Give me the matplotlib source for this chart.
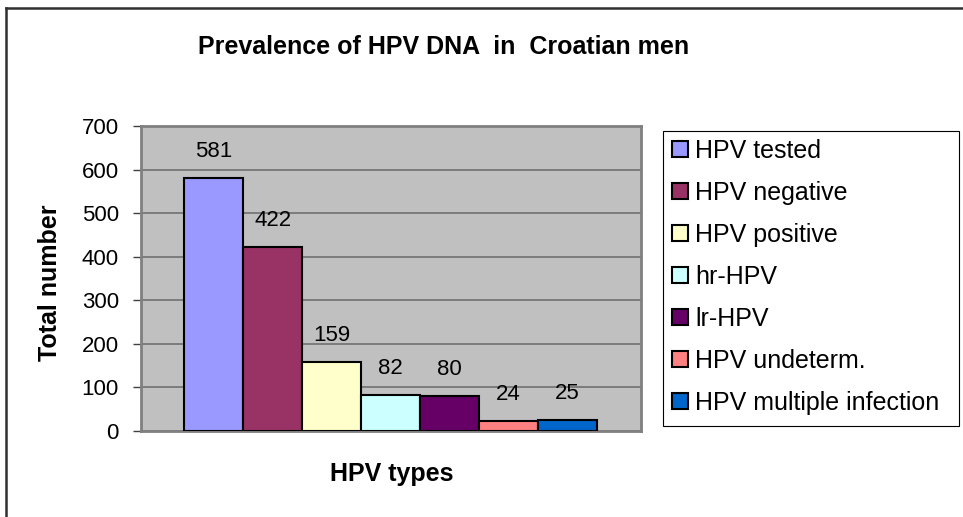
import matplotlib
matplotlib.use("Agg")
import matplotlib.pyplot as plt
from matplotlib.patches import Rectangle, Patch
from matplotlib.lines import Line2D

# -- data --
categories = ["HPV tested", "HPV negative", "HPV positive", "hr-HPV",
              "lr-HPV", "HPV undeterm.", "HPV multiple infection"]
values = [581, 422, 159, 82, 80, 24, 25]
colors = ["#9999FF", "#993366", "#FFFFCC", "#CCFFFF",
          "#660066", "#FF8080", "#0066CC"]
yticks = [0, 100, 200, 300, 400, 500, 600, 700]

plt.rcParams['font.family'] = ['Liberation Sans', 'DejaVu Sans']

W, H = 963, 517
fig = plt.figure(figsize=(W / 100, H / 100), dpi=100)

def fx(px):
    return px / W

def fy(px):
    return 1 - px / H

# -- plot area --------------------------------------------------
ax = fig.add_axes((fx(141), fy(431), 500 / W, 305 / H))
ax.set_facecolor("#C0C0C0")

for i, (v, c, lab) in enumerate(zip(values, colors, categories)):
    ax.bar(i, v, width=1.0, color=c, edgecolor="black", linewidth=1.5,
           label=lab, zorder=3)
    ax.annotate(str(v), (i, v), xytext=(0, 19), textcoords="offset points",
                ha="center", va="center", fontsize=16, zorder=4)

ax.set_xlim(-1.23, 7.245)
ax.set_ylim(0, 700)
ax.set_yticks(yticks)
ax.set_xticks([])
ax.tick_params(axis="y", direction="out", length=6, width=1, color="#404040",
               labelsize=16, pad=10)
ax.yaxis.grid(True, color="#707070", linewidth=1.2, zorder=1)
for s in ax.spines.values():
    s.set_color("#808080")
    s.set_linewidth(2)

# axis titles
fig.text(fx(50), fy(283), "Total number", rotation=90, ha="center", va="center",
         fontsize=18, fontweight="bold")
fig.text(fx(392), fy(474), "HPV types", ha="center", va="center",
         fontsize=18, fontweight="bold")

# -- legend -----------------------------------------------------
fig.add_artist(Rectangle((fx(663), fy(426)), 296 / W, 295 / H,
                         transform=fig.transFigure, facecolor="white",
                         edgecolor="black", linewidth=0.8))
handles = [Patch(facecolor=c, edgecolor="black", linewidth=1.5) for c in colors]
leg = fig.legend(handles, categories, loc="upper left",
                 bbox_to_anchor=(fx(672), fy(139)), borderaxespad=0,
                 fontsize=18, handlelength=0.62, handleheight=0.62,
                 handletextpad=0.3, labelspacing=0.72, borderpad=0,
                 frameon=False)

# -- title + outer border ---------------------------------------
fig.text(fx(444), fy(47), "Prevalence of HPV DNA  in  Croatian men",
         ha="center", va="center", fontsize=18, fontweight="bold")
fig.add_artist(Line2D([fx(6), fx(6)], [0, fy(8)], transform=fig.transFigure,
                      color="#303030", linewidth=1.8))
fig.add_artist(Line2D([fx(6), 1], [fy(8), fy(8)], transform=fig.transFigure,
                      color="#303030", linewidth=1.8))

fig.savefig("out.png", dpi=100)
